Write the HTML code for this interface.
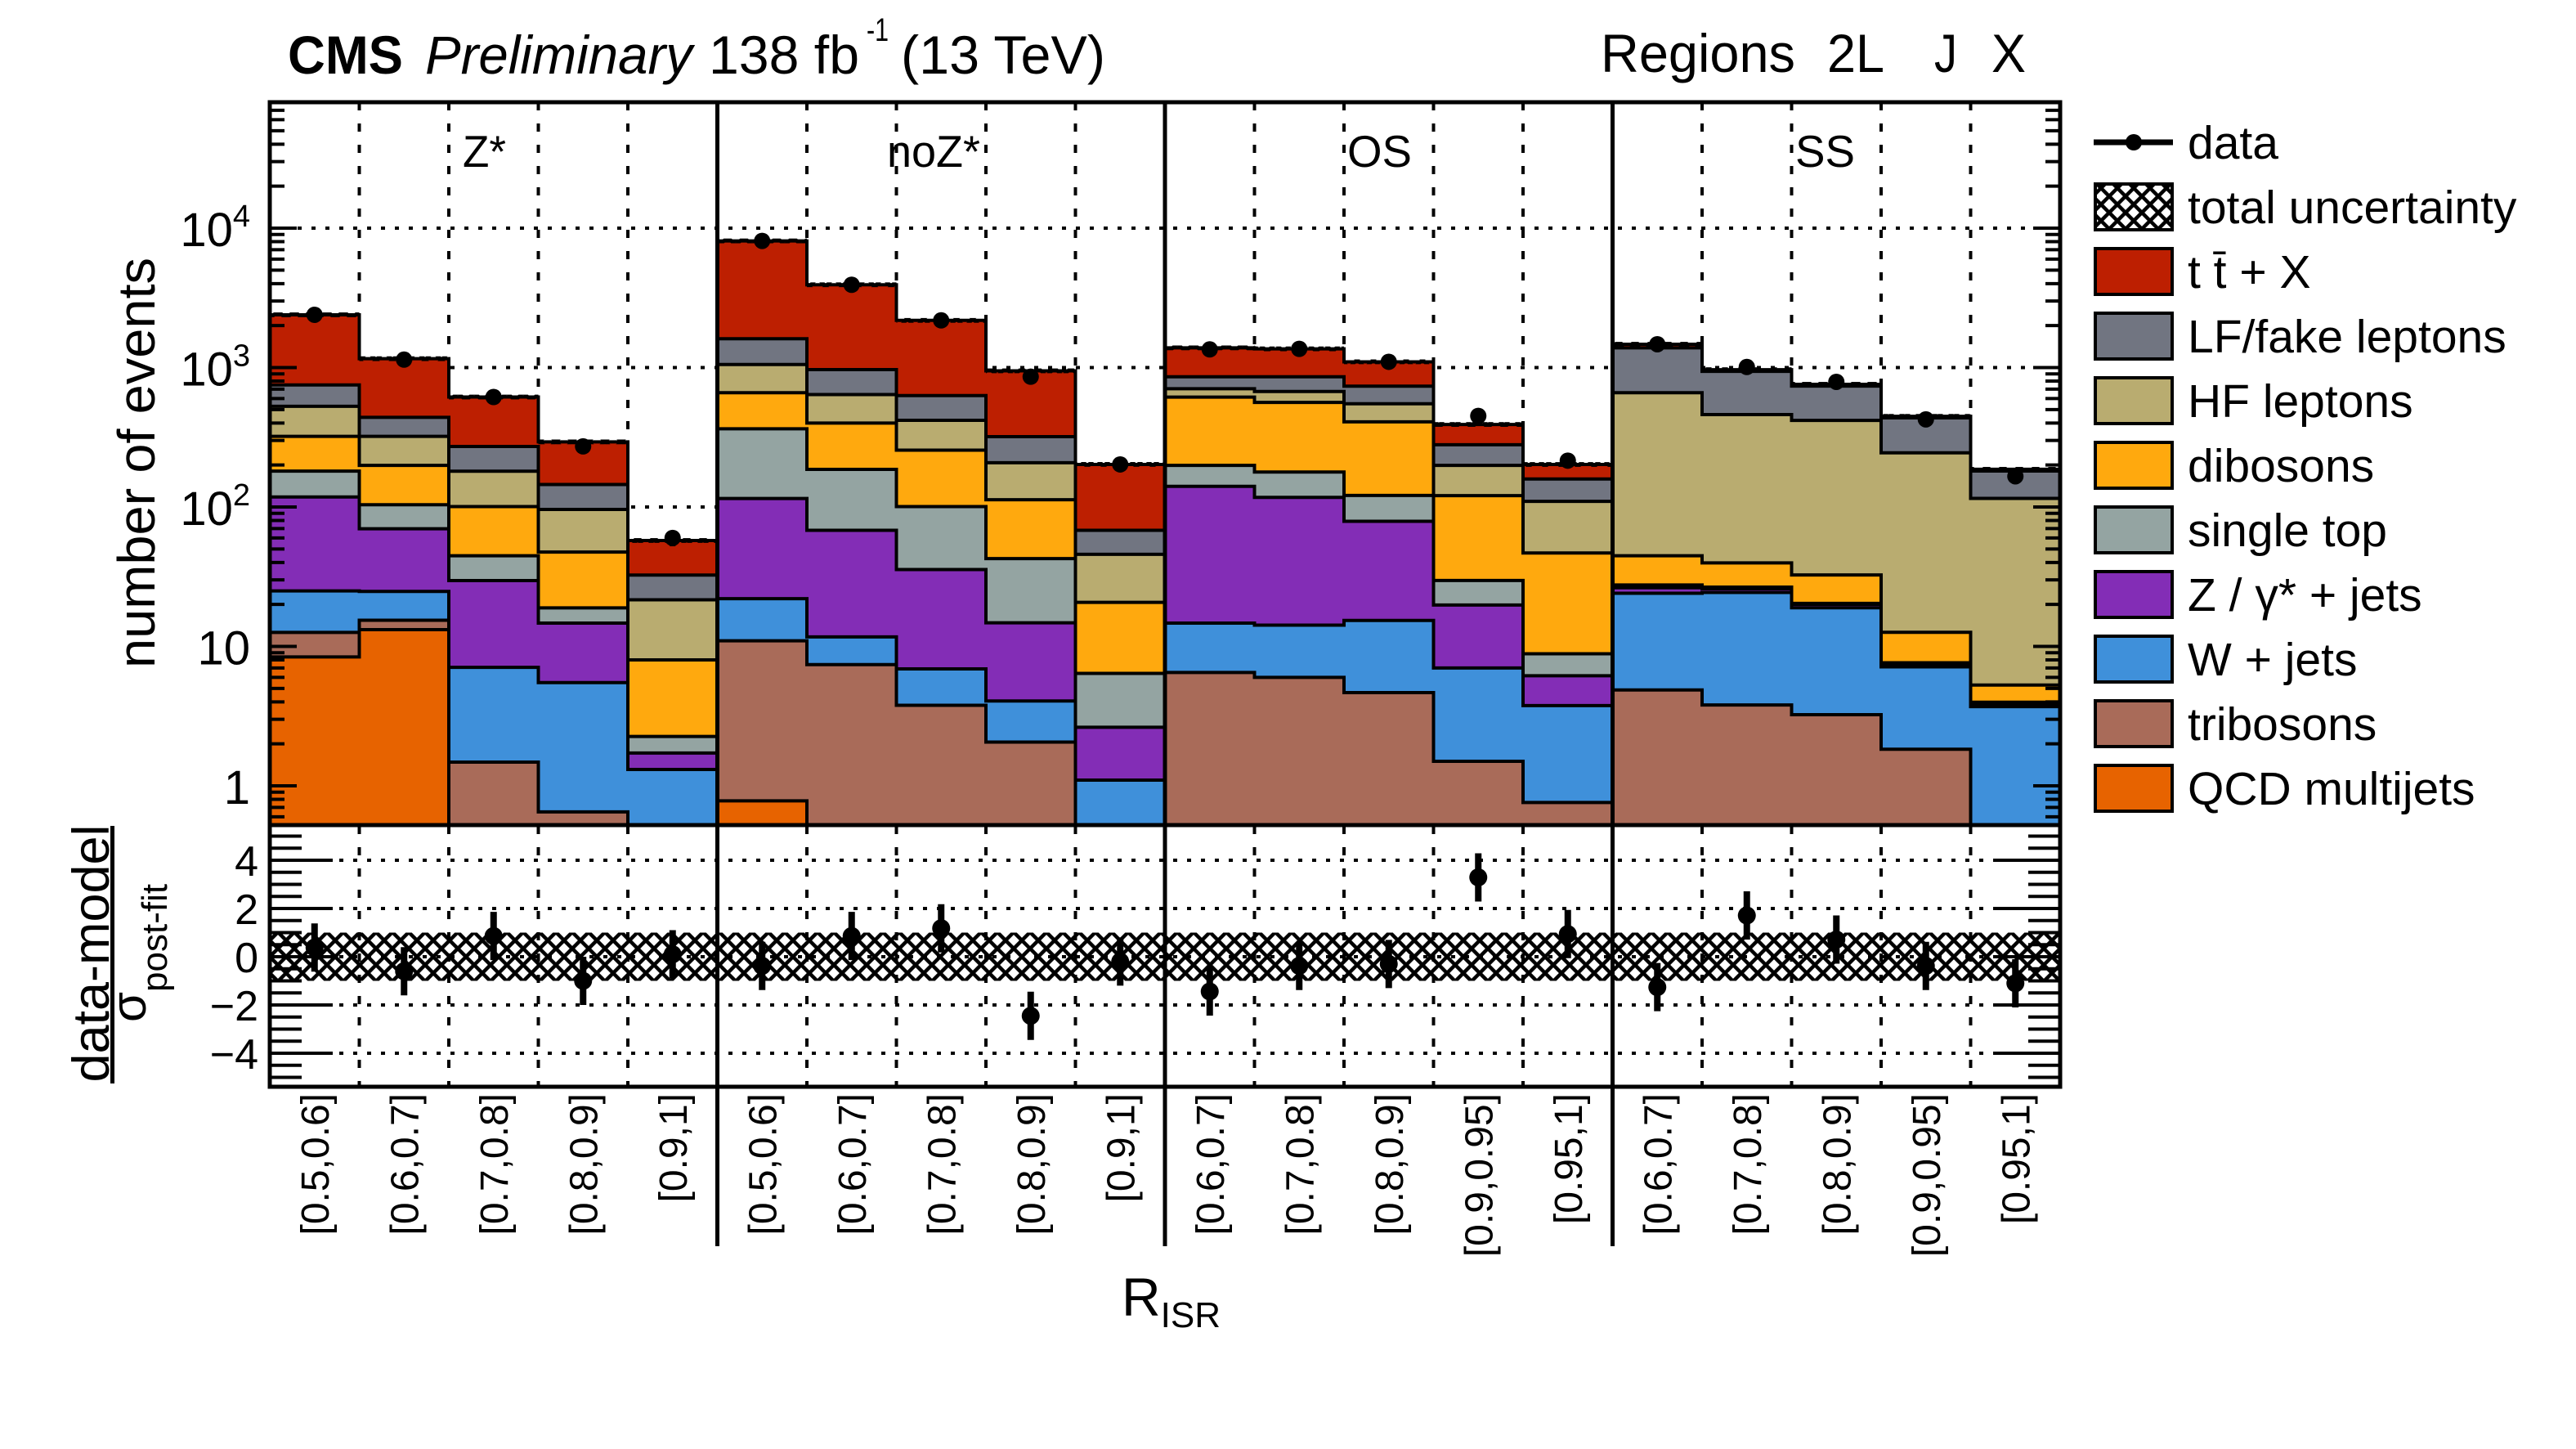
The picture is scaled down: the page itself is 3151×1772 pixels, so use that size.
<!DOCTYPE html>
<html><head><meta charset="utf-8"><style>
html,body{margin:0;padding:0;background:#fff;}
svg{display:block;font-family:"Liberation Sans",Arial,sans-serif;}
</style></head><body>
<svg id="chart" xmlns="http://www.w3.org/2000/svg" width="3151" height="1772" viewBox="0 0 3151 1772">
<defs>
<pattern id="hatch" patternUnits="userSpaceOnUse" width="20" height="20">
<path d="M0,0 L20,20 M20,0 L0,20" stroke="#000" stroke-width="4.5"/>
</pattern>
<clipPath id="mainclip"><rect x="330" y="125" width="2190" height="884"/></clipPath>
</defs>
<rect x="0" y="0" width="3151" height="1772" fill="#fff"/>
<g id="grid"></g>
<g id="stack" clip-path="url(#mainclip)"></g>
<g id="ratio"></g>
<g id="axes"></g>
<g id="datapts"></g>

<text x="352" y="90" font-size="66" font-weight="bold" textLength="141" lengthAdjust="spacingAndGlyphs">CMS</text>
<text x="520" y="90" font-size="66" font-style="italic" textLength="327" lengthAdjust="spacingAndGlyphs">Preliminary</text>
<text x="867" y="90" font-size="66" textLength="184" lengthAdjust="spacingAndGlyphs">138 fb</text>
<text x="1060" y="50" font-size="40" textLength="27" lengthAdjust="spacingAndGlyphs">-1</text>
<text x="1102" y="90" font-size="66" textLength="250" lengthAdjust="spacingAndGlyphs">(13 TeV)</text>
<text x="1958" y="88" font-size="66" textLength="238" lengthAdjust="spacingAndGlyphs">Regions</text>
<text x="2235" y="88" font-size="66" textLength="70" lengthAdjust="spacingAndGlyphs">2L</text>
<text x="2366" y="88" font-size="66" textLength="28" lengthAdjust="spacingAndGlyphs">J</text>
<text x="2436" y="88" font-size="66" textLength="42" lengthAdjust="spacingAndGlyphs">X</text>

<text x="566" y="204" font-size="55" textLength="53" lengthAdjust="spacingAndGlyphs">Z*</text>
<text x="1085" y="204" font-size="55" textLength="114" lengthAdjust="spacingAndGlyphs">noZ*</text>
<text x="1648" y="204" font-size="55" textLength="79" lengthAdjust="spacingAndGlyphs">OS</text>
<text x="2196" y="204" font-size="55" textLength="73" lengthAdjust="spacingAndGlyphs">SS</text>

<text transform="translate(189,566) rotate(-90)" text-anchor="middle" font-size="64" textLength="502" lengthAdjust="spacingAndGlyphs">number of events</text>
<text transform="translate(133,1166) rotate(-90)" text-anchor="middle" font-size="63" textLength="315" lengthAdjust="spacingAndGlyphs">data-model</text>
<rect x="135" y="1010" width="5" height="315" fill="#000"/>
<text transform="translate(178,1250) rotate(-90)" font-size="60">σ<tspan font-size="44" dy="26">post-fit</tspan></text>
<text x="1372" y="1609" font-size="66">R<tspan font-size="44" dy="14">ISR</tspan></text>

<g id="legend"></g>
</svg>
<script>
const categories = ["[0.5,0.6]","[0.6,0.7]","[0.7,0.8]","[0.8,0.9]","[0.9,1]",
 "[0.5,0.6]","[0.6,0.7]","[0.7,0.8]","[0.8,0.9]","[0.9,1]",
 "[0.6,0.7]","[0.7,0.8]","[0.8,0.9]","[0.9,0.95]","[0.95,1]",
 "[0.6,0.7]","[0.7,0.8]","[0.8,0.9]","[0.9,0.95]","[0.95,1]"];
const qcd      = [8.4,13.2,0,0,0, 0.78,0,0,0,0, 0,0,0,0,0, 0,0,0,0,0];
const tribosons= [4.2,2.2,1.48,0.65,0, 10.2,7.4,3.78,2.06,0, 6.5,6.0,4.66,1.5,0.76, 4.87,3.8,3.24,1.83,0];
const wjets    = [12.4,9.4,5.6,4.85,1.31, 11,4.3,3.12,2.0,1.1, 8.2,8.2,10.7,5.5,3.0, 19.2,20.6,15.7,5.3,3.7];
const zjets    = [93,45,22.6,9.2,0.41, 93,56.3,28.7,10.7,1.53, 126,103,63.6,12.8,2.4, 2.3,1.5,1.1,0.35,0.18];
const singletop= [63,34,15,4.2,0.54, 249,118,65,27.9,3.77, 58,61,42,9.9,2.7, 1.2,0.7,0.3,0.15,0.1];
const dibosons = [140,95,56,28.6,5.74, 296,214,155,70,14.3, 415,384,287,91,37.9, 17.1,13.1,12.2,5.0,1.3];
const hfleptons= [206,122,80,48.5,13.6, 392,240,163,95,25.1, 91,112,142,78,63, 615,420,385,232,110];
const lfleptons= [223,119,91,49,10.9, 558,326,211,112,22.2, 154,185,186,81,49, 725,480,319,191,66];
const ttx      = [1640,718,343,148,25, 6490,2959,1550,628,134, 526,503,364,111,43, 85,26,22,11,5];
const dataVals = [2390,1140,615,272,60, 8100,3925,2180,860,202, 1350,1362,1100,450,215, 1470,1010,790,425,166];
const pulls    = [0.38,-0.6,0.86,-1.0,0.1, -0.38,0.86,1.18,-2.45,-0.2, -1.44,-0.38,-0.3,3.29,0.94, -1.26,1.71,0.71,-0.38,-1.1];
const pullErr  = [1,1,1,1,1, 1,1,1,1,1, 1,1,1,1,1, 1,1,1,1,1];
const mainTickLabels = [["10","4"],["10","3"],["10","2"],["10",""],["1",""]];
const mainTickValues = [1e4,1e3,1e2,10,1];
const ratioTickValues = [4,2,0,-2,-4];
const ratioTickLabels = ["4","2","0","\u22122","\u22124"];
const legendLabels = ["data","total uncertainty","t t\u0304 + X","LF/fake leptons","HF leptons","dibosons","single top","Z / \u03b3* + jets","W + jets","tribosons","QCD multijets"];

const NS="http://www.w3.org/2000/svg";
function mk(tag,attrs,parent){const e=document.createElementNS(NS,tag);for(const k in attrs)e.setAttribute(k,attrs[k]);if(parent)parent.appendChild(e);return e;}
const X0=330,X1=2520,NB=categories.length,BW=(X1-X0)/NB;
const YT=125,YB=1009,YMIN=0.52;
function bx(i){return X0+i*BW;}
function ly(v){if(v<=YMIN)return YB;return Math.max(YT-50,961-170.5*Math.log10(v));}
const RY0=1170,RS=29.5,RT=1010,RB=1329;
function ry(r){return RY0-RS*r;}

const grid=document.getElementById('grid');
for(let i=1;i<NB;i++){ if(i%5===0)continue;
 let l=mk('line',{x1:bx(i),x2:bx(i),y1:YT,y2:YB,stroke:'#000','stroke-width':4,'stroke-dasharray':'10,16'},grid);
 
 
 let l2=mk('line',{x1:bx(i),x2:bx(i),y1:RT,y2:RB,stroke:'#000','stroke-width':4,'stroke-dasharray':'10,16'},grid);
 
 
}
[1e4,1e3,1e2,10,1].forEach(v=>{
 let l=mk('line',{x1:X0,x2:X1,y1:ly(v),y2:ly(v),stroke:'#000','stroke-width':4,'stroke-dasharray':'5,12'},grid);
 
 
});
ratioTickValues.forEach(v=>{
 let l=mk('line',{x1:X0,x2:X1,y1:ry(v),y2:ry(v),stroke:'#000','stroke-width':4,'stroke-dasharray':'5,12'},grid);
 
 
});

const comps=[qcd,tribosons,wjets,zjets,singletop,dibosons,hfleptons,lfleptons,ttx];
const compNames=['qcd-multijets','tribosons','w-jets','z-jets','single-top','dibosons','hf-leptons','lf-fake-leptons','ttbar-x'];
const colors=['#e76300','#a96b59','#3f90da','#832db6','#94a4a2','#ffa90e','#b9ac70','#717581','#bd1f01'];
const cum=[];let run=new Array(NB).fill(0);
comps.forEach(c=>{run=run.map((v,i)=>v+c[i]);cum.push(run.slice());});
const stack=document.getElementById('stack');
for(let k=comps.length-1;k>=0;k--){
 let d='M'+X0+','+(YB+10);
 for(let i=0;i<NB;i++){const y=ly(cum[k][i]);d+=' L'+bx(i)+','+y+' L'+bx(i+1)+','+y;}
 d+=' L'+X1+','+(YB+10)+' Z';
 const p=mk('path',{d:d,fill:colors[k],stroke:'#000','stroke-width':4,'stroke-linejoin':'miter'},stack);
 
 
}
for(let i=0;i<NB;i++){
 const t=cum[comps.length-1][i];
 const r=mk('rect',{x:bx(i),y:ly(t*1.04),width:BW,height:ly(t/1.04)-ly(t*1.04),fill:'url(#hatch)'},stack);
 
 
}

const ratio=document.getElementById('ratio');
const hb=mk('rect',{x:X0,y:ry(1),width:X1-X0,height:ry(-1)-ry(1),fill:'url(#hatch)'},ratio);



const axes=document.getElementById('axes');
function frame(y1,y2,name){const r=mk('rect',{x:X0,y:y1,width:X1-X0,height:y2-y1,fill:'none',stroke:'#000','stroke-width':5},axes);
 
 }
frame(YT,YB,'main-frame');frame(YB,RB,'ratio-frame');
[5,10,15].forEach(i=>{const l=mk('line',{x1:bx(i),x2:bx(i),y1:YT,y2:1524,stroke:'#000','stroke-width':5},axes);
 
 });
for(let d=-1;d<=4;d++)for(let m=1;m<=9;m++){const v=m*Math.pow(10,d);if(v<YMIN||v>8e4)continue;
 const y=ly(v),len=(m===1)?33:18;
 const a=mk('line',{x1:X0,x2:X0+len,y1:y,y2:y,stroke:'#000','stroke-width':4},axes);
 
 
 const b=mk('line',{x1:X1-len,x2:X1,y1:y,y2:y,stroke:'#000','stroke-width':4},axes);
 
 }
for(let v=-5;v<=5;v+=0.5){const y=ry(v);const len=(v%2===0)?77:39;
 const a=mk('line',{x1:X0,x2:X0+len,y1:y,y2:y,stroke:'#000','stroke-width':4},axes);
 
 
 const b=mk('line',{x1:X1-len,x2:X1,y1:y,y2:y,stroke:'#000','stroke-width':4},axes);
 
 }
mainTickValues.forEach((v,i)=>{
 const t=mk('text',{x:306,y:ly(v)+22,'text-anchor':'end','font-size':58},axes);
 
 
 t.appendChild(document.createTextNode(mainTickLabels[i][0]));
 if(mainTickLabels[i][1]){const s=mk('tspan',{'font-size':38,dy:-24},t);s.textContent=mainTickLabels[i][1];}
});
ratioTickValues.forEach((v,i)=>{
 const t=mk('text',{x:316,y:ry(v)+19,'text-anchor':'end','font-size':52},axes);
 
 
 t.textContent=ratioTickLabels[i];
});
categories.forEach((c,i)=>{
 const cx=bx(i)+BW/2+17;
 const t=mk('text',{transform:'translate('+cx+',1337) rotate(-90)','text-anchor':'end','font-size':48},axes);
 
 
 t.textContent=c;
});

const dp=document.getElementById('datapts');
dataVals.forEach((v,i)=>{
 const cx=bx(i)+BW/2,e=Math.sqrt(v);
 const l=mk('line',{x1:cx,x2:cx,y1:ly(v+e),y2:ly(Math.max(v-e,YMIN)),stroke:'#000','stroke-width':7},dp);
 
 
 const c=mk('circle',{cx:cx,cy:ly(v),r:10,fill:'#000'},dp);
 
 
});
pulls.forEach((p,i)=>{
 const cx=bx(i)+BW/2;
 const l=mk('line',{x1:cx,x2:cx,y1:ry(p+pullErr[i]),y2:ry(p-pullErr[i]),stroke:'#000','stroke-width':8},dp);
 
 
 const c=mk('circle',{cx:cx,cy:ry(p),r:11,fill:'#000'},dp);
 
 
});

const lg=document.getElementById('legend');
const legColors=[null,'url(#hatch)','#bd1f01','#717581','#b9ac70','#ffa90e','#94a4a2','#832db6','#3f90da','#a96b59','#e76300'];
legendLabels.forEach((lab,i)=>{
 const cy=174+i*79;
 if(i===0){
  const l=mk('line',{x1:2561,x2:2658,y1:cy,y2:cy,stroke:'#000','stroke-width':7},lg);
  
  
  const c=mk('circle',{cx:2610,cy:cy,r:10,fill:'#000'},lg);
  
  
 } else {
  const r=mk('rect',{x:2563,y:cy-28,width:94,height:56,fill:legColors[i],stroke:'#000','stroke-width':4},lg);
  
  
 }
 const t=mk('text',{x:2676,y:cy+20,'font-size':57},lg);
 
 
 t.textContent=lab;
});
</script>
</body></html>
